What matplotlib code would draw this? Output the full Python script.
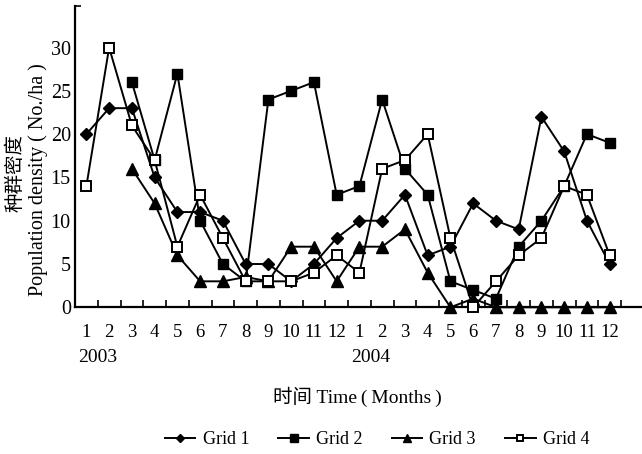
import matplotlib
matplotlib.use('Agg')
import matplotlib.pyplot as plt
import matplotlib.transforms as mtransforms
import numpy as np

# ---- data ----
months = list(range(1, 25))
month_labels = [str(m) for m in range(1, 13)] * 2
years = ['2003', '2004']
nan = np.nan
grid1 = [20, 23, 23, 15, 11, 11, 10, 5, 5, 3, 5, 8,
         10, 10, 13, 6, 7, 12, 10, 9, 22, 18, 10, 5]
grid2 = [nan, nan, 26, 17, 27, 10, 5, 3, 24, 25, 26, 13,
         14, 24, 16, 13, 3, 2, 1, 7, 10, 14, 20, 19]
grid3 = [nan, nan, 16, 12, 6, 3, 3, 3.5, 3, 7, 7, 3,
         7, 7, 9, 4, 0, 1, 0, 0, 0, 0, 0, 0]
grid4 = [14, 30, 21, 17, 7, 13, 8, 3, 3, 3, 4, 6,
         4, 16, 17, 20, 8, 0, 3, 6, 8, 14, 13, 6]
series_names = ['Grid 1', 'Grid 2', 'Grid 3', 'Grid 4']
yticks = [0, 5, 10, 15, 20, 25, 30]

serif = ['Liberation Serif', 'DejaVu Serif']
mixed = ['Liberation Serif', 'Noto Sans CJK SC', 'DejaVu Sans']
plt.rcParams['font.family'] = serif

W, H = 642, 454
fig = plt.figure(figsize=(W / 100, H / 100), dpi=100)
ax = fig.add_axes([75 / W, (H - 307.3) / H, 567 / W, (307.3 - 6) / H])

x = np.array(months)
lw = 1.4
h1, = ax.plot(x, grid1, color='black', lw=lw, marker='D', markersize=6.5, zorder=3)
h2, = ax.plot(x, grid2, color='black', lw=lw, marker='s', markersize=7.5, zorder=3)
h3, = ax.plot(x, grid3, color='black', lw=lw, marker='^', markersize=8, zorder=3)
h4, = ax.plot(x, grid4, color='black', lw=lw, marker='s', markersize=7,
              markerfacecolor='white', markeredgewidth=1.4, zorder=4)

ax.set_xlim(0.5, 25.42)
ax.set_ylim(0, 34.8)
for l in ax.lines:
    l.set_clip_on(False)

for s in ['top', 'right']:
    ax.spines[s].set_visible(False)
for s in ['left', 'bottom']:
    ax.spines[s].set_linewidth(1.6)

ax.set_xticks(np.arange(1.5, 25, 1))
ax.set_xticklabels([])
ax.set_xticks(x, minor=True)
ax.set_xticklabels(month_labels, minor=True)
ax.tick_params(axis='x', which='major', direction='in', length=5, width=1.2)
ax.tick_params(axis='x', which='minor', length=0, pad=12, labelsize=13.5)

ax.set_yticks(yticks)
ax.set_yticklabels([str(v) for v in yticks])
ax.set_yticks([34.8], minor=True)
ax.tick_params(axis='y', which='major', length=0, pad=3, labelsize=14.5)
ax.tick_params(axis='y', which='minor', direction='in', length=4, width=1.2)

trans = mtransforms.blended_transform_factory(ax.transData, ax.transAxes)
ax.text(1.5, (307.3 - 357) / 301.3, years[0], transform=trans, ha='center',
        va='center', fontsize=14)
ax.text(13.5, (307.3 - 357) / 301.3, years[1], transform=trans, ha='center',
        va='center', fontsize=14)

fig.text(357 / W, 1 - 397 / H, '时间 Time\u2009(\u2009Months\u2009)', ha='center',
         va='center', family=mixed, fontsize=14)
fig.text(15 / W, 1 - 173 / H, '种群密度', rotation=90, ha='center', va='center',
         family=['Noto Sans CJK SC', 'DejaVu Sans'], fontsize=14, weight='medium')
fig.text(38 / W, 1 - 180 / H, 'Population density ( No./ha )', rotation=90,
         ha='center', va='center', fontsize=14.5)

fig.legend([h1, h2, h3, h4], series_names, loc='center',
           bbox_to_anchor=(377 / W, 1 - 440 / H), ncol=4, frameon=False,
           fontsize=13, handlelength=1.7, handletextpad=0.4,
           columnspacing=1.6, markerscale=0.7)

fig.savefig('out.png', dpi=100)
